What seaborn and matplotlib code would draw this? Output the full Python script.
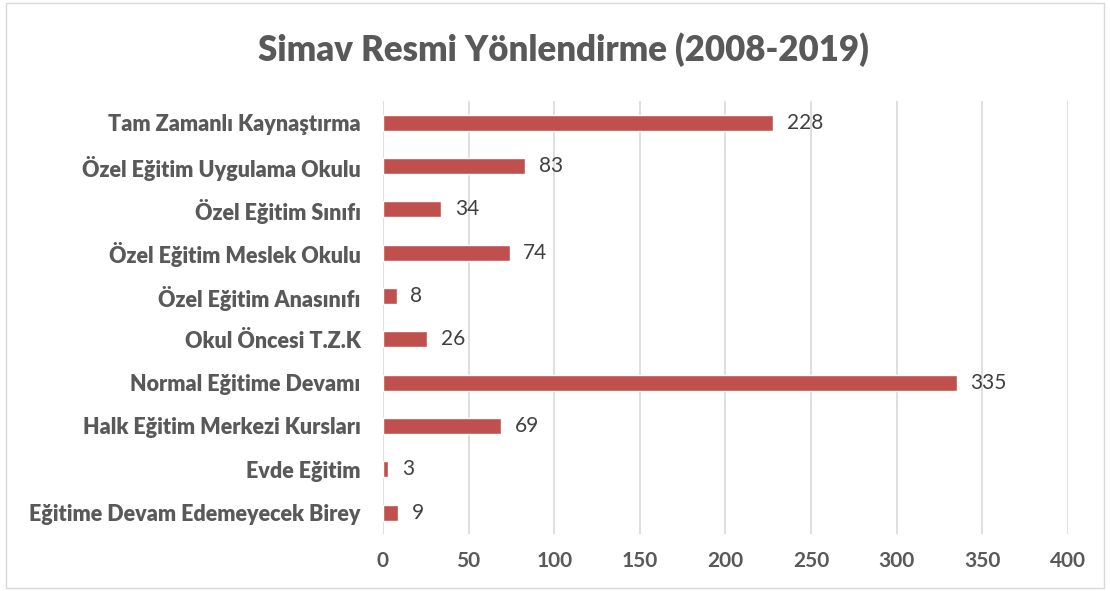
import matplotlib
matplotlib.use("Agg")
import matplotlib.pyplot as plt
import seaborn as sns
import pandas as pd

# Data
categories = [
    "Tam Zamanlı Kaynaştırma",
    "Özel Eğitim Uygulama Okulu",
    "Özel Eğitim Sınıfı",
    "Özel Eğitim Meslek Okulu",
    "Özel Eğitim Anasınıfı",
    "Okul Öncesi T.Z.K",
    "Normal Eğitime Devamı",
    "Halk Eğitim Merkezi Kursları",
    "Evde Eğitim",
    "Eğitime Devam Edemeyecek Birey",
]
values = [228, 83, 34, 74, 8, 26, 335, 69, 3, 9]
x_ticks = [0, 50, 100, 150, 200, 250, 300, 350, 400]

df = pd.DataFrame({"kategori": categories, "sayi": values})

sns.set_theme(style="white")
plt.rcParams["font.family"] = ["Lato", "DejaVu Sans"]

text_gray = "#595959"
bar_color = "#C0504D"

fig = plt.figure(figsize=(11.1, 5.91), dpi=100)
ax = fig.add_axes([0.345, 0.096, 0.617, 0.733])

sns.barplot(data=df, x="sayi", y="kategori", color=bar_color,
            width=0.37, saturation=1, ax=ax)

# value labels
for i, v in enumerate(values):
    ax.text(v + 8, i, str(v), va="center", ha="left",
            fontsize=15, color="#404040")

ax.set_xlim(0, 400)
ax.set_xticks(x_ticks)
ax.set_xticklabels([str(t) for t in x_ticks], fontsize=15,
                   fontweight="bold", color=text_gray)
ax.tick_params(axis="y", labelsize=15.5, labelcolor=text_gray, length=0, pad=16)
ax.tick_params(axis="x", length=0, pad=12)
for lab in ax.get_yticklabels():
    lab.set_fontweight("heavy")

ax.xaxis.grid(True, color="#D9D9D9", linewidth=1.2)
ax.set_axisbelow(True)
for s in ax.spines.values():
    s.set_visible(False)
ax.set_xlabel("")
ax.set_ylabel("")

fig.suptitle("Simav Resmi Yönlendirme (2008-2019)", x=0.508, y=0.945,
             fontsize=25, fontweight="heavy", color=text_gray)

# light border around chart area
fig.patches.append(plt.Rectangle((0.005, 0.005), 0.99, 0.99,
                                 transform=fig.transFigure, fill=False,
                                 edgecolor="#D9D9D9", linewidth=1))

fig.savefig("out.png", dpi=100)
